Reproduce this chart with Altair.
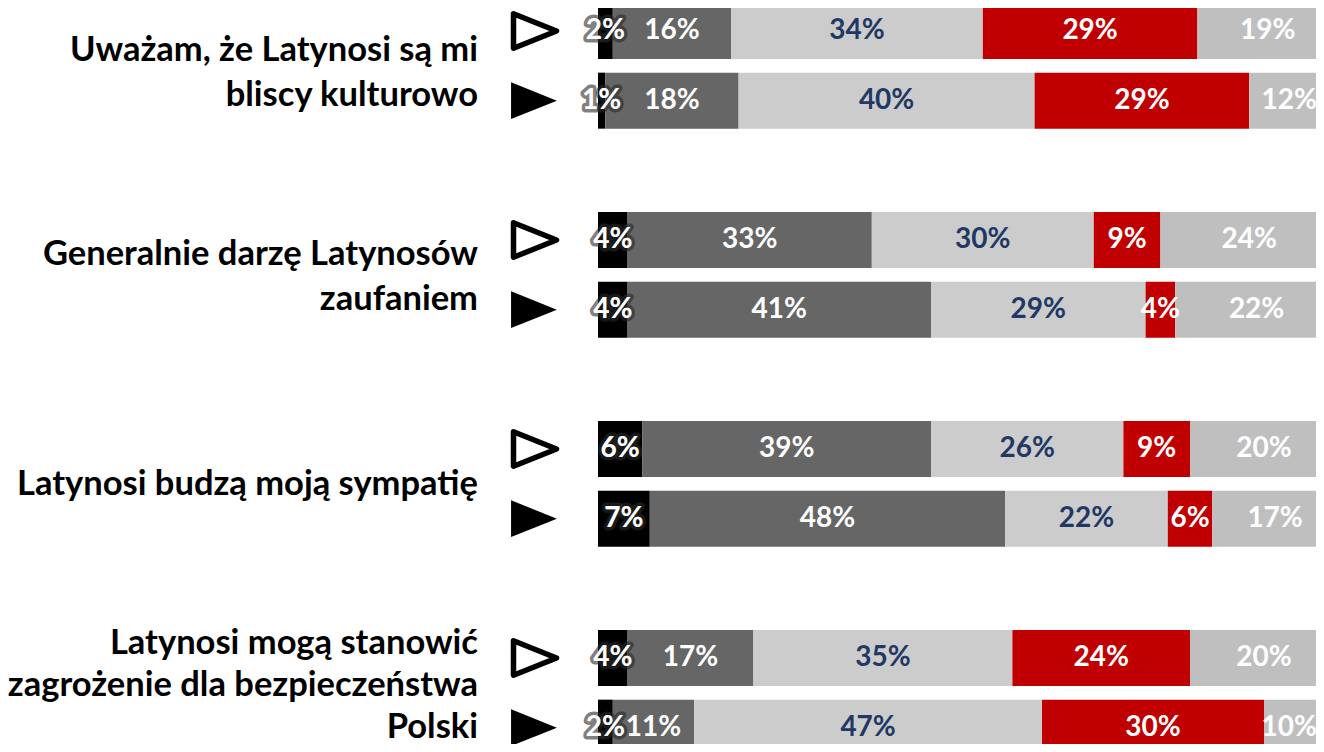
import altair as alt
import pandas as pd

# ---------------- data ----------------
question_lines = [
    ["Uważam, że Latynosi są mi", "bliscy kulturowo"],
    ["Generalnie darzę Latynosów", "zaufaniem"],
    ["Latynosi budzą moją sympatię"],
    ["Latynosi mogą stanowić", "zagrożenie dla bezpieczeństwa", "Polski"],
]
waves = ["pomiar 1", "pomiar 2"]          # outlined triangle, filled triangle
categories = ["Zdecydowanie tak", "Raczej tak", "Ani tak, ani nie",
              "Raczej nie", "Trudno powiedzieć"]
values_wave1 = [
    [2, 16, 34, 29, 19],
    [4, 33, 30, 9, 24],
    [6, 39, 26, 9, 20],
    [4, 17, 35, 24, 20],
]
values_wave2 = [
    [1, 18, 40, 29, 12],
    [4, 41, 29, 4, 22],
    [7, 48, 22, 6, 17],
    [2, 11, 47, 30, 10],
]

# ---------------- style ----------------
bar_colors = ["#000000", "#666666", "#cccccc", "#c00000", "#bfbfbf"]
label_colors = ["#ffffff", "#ffffff", "#1f3864", "#ffffff", "#ffffff"]
FONT = "Lato"
question_dy = [20, 15, 36, -14]    # vertical offset of each question block from its first bar
question_lh = [44.5, 44.5, 44.5, 42]

# ---------------- build tables ----------------
slots = []
for qi in range(len(question_lines)):
    slots += [f"{qi}-0", f"{qi}-1"]
    if qi < len(question_lines) - 1:
        slots.append(f"{qi}-gap")

rows, tri_rows, q_rows = [], [], []
for qi, lines in enumerate(question_lines):
    q_rows.append({"q": qi, "slot": f"{qi}-0", "lines": lines})
    for wi, vals in enumerate([values_wave1[qi], values_wave2[qi]]):
        slot = f"{qi}-{wi}"
        tri_rows.append({"slot": slot, "wave": waves[wi]})
        cum = 0
        for ci, v in enumerate(vals):
            rows.append({
                "slot": slot,
                "category": categories[ci],
                "start": cum,
                "end": cum + v,
                "mid": cum + v / 2,
                "label": f"{v}%",
            })
            cum += v

bars_df = pd.DataFrame(rows)
tri_df = pd.DataFrame(tri_rows)
q_df = pd.DataFrame(q_rows)

step = 209 / 3
yscale = alt.Scale(domain=slots, range=[23 - step / 2, 23 - step / 2 + step * len(slots)],
                   paddingInner=0.196, paddingOuter=0.098)
xscale = alt.Scale(domain=[0, 100], range=[590, 1330])
Y = alt.Y("slot:N", scale=yscale, axis=None)

bars = alt.Chart(bars_df).mark_bar().encode(
    x=alt.X("start:Q", scale=xscale, axis=None),
    x2="end:Q",
    y=Y,
    color=alt.Color("category:N", scale=alt.Scale(domain=categories, range=bar_colors), legend=None),
)

glow = alt.Chart(bars_df).transform_filter(
    alt.datum.category == categories[0]
).mark_text(
    font=FONT, fontWeight="bold", fontSize=28, baseline="middle", align="center",
    fill="#ffffff", stroke="#2a2a2a", strokeWidth=7, strokeOpacity=0.6, strokeJoin="round",
).encode(
    x=alt.X("mid:Q", scale=xscale, axis=None), y=Y, text="label:N"
)

# keep labels of the right-most segments inside the visible page
labels = alt.Chart(bars_df).transform_calculate(
    lx="min(datum.mid, 93.4)"
).mark_text(
    font=FONT, fontWeight="bold", fontSize=28, baseline="middle", align="center",
).encode(
    x=alt.X("lx:Q", scale=xscale, axis=None),
    y=Y,
    text="label:N",
    fill=alt.Fill("category:N", scale=alt.Scale(domain=categories, range=label_colors), legend=None),
)

tri_path = "M -1 -0.8 L 1 0 L -1 0.8 Z"
tri_open = alt.Chart(tri_df).transform_filter(alt.datum.wave == waves[0]).mark_point(
    shape=tri_path, size=1850, filled=True, fill="#ffffff", stroke="#000000",
    strokeWidth=5.5, strokeJoin="round", opacity=1,
).encode(x=alt.value(527), y=Y)

tri_full = alt.Chart(tri_df).transform_filter(alt.datum.wave == waves[1]).mark_point(
    shape=tri_path, size=2100, filled=True, fill="#000000", strokeWidth=0, opacity=1,
).encode(x=alt.value(526), y=Y)

qlayers = []
for qi, dy in enumerate(question_dy):
    qlayers.append(
        alt.Chart(q_df).transform_filter(alt.datum.q == qi).mark_text(
            font=FONT, fontWeight="bold", fontSize=34.5, align="right", baseline="middle",
            dy=dy, lineHeight=question_lh[qi], color="#000000",
        ).encode(x=alt.value(470), y=Y, text="lines")
    )

chart = alt.layer(bars, glow, labels, tri_open, tri_full, *qlayers).resolve_scale(
    color="independent"
).properties(
    width=1308, height=736, padding=0, autosize="none", background="#ffffff"
).configure_view(stroke=None)

chart.save("out.html", embed_options={"renderer": "svg", "actions": False})
